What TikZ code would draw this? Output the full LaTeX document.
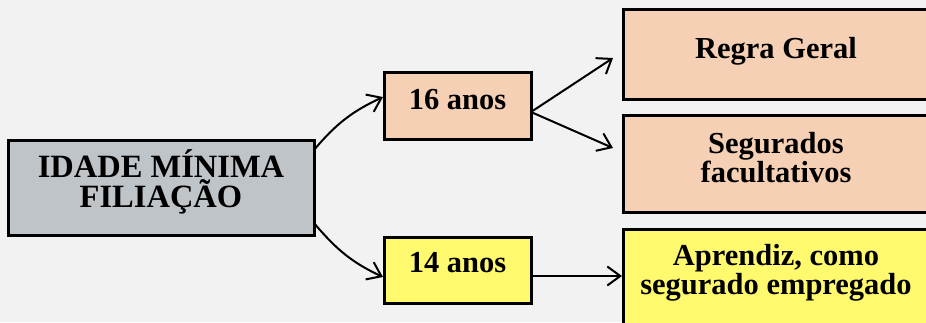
\documentclass[tikz,border=0pt]{standalone}
\usepackage{fontspec}
\setmainfont{Liberation Serif}
\usetikzlibrary{arrows.meta}
\definecolor{bgc}{HTML}{F2F2F2}
\definecolor{grayc}{HTML}{BFC4C8}
\definecolor{peach}{HTML}{F5D0B4}
\definecolor{yell}{HTML}{FFF96E}
\tikzset{
  boxst/.style={draw=black, line width=3pt, inner sep=0pt, outer sep=0pt},
  txt/.style={inner sep=0pt, align=center, font=\bfseries\fontsize{30.5}{29}\selectfont},
  bigtxt/.style={inner sep=0pt, align=center, font=\bfseries\fontsize{32.5}{30}\selectfont},
  conn/.style={line width=2pt, -{Straight Barb[length=13pt,width=19pt]}}
}
\begin{document}
\begin{tikzpicture}[x=1pt,y=1pt]
\useasboundingbox (0,0) rectangle (926,322);
\clip (0,0) rectangle (926,322);
\fill[bgc] (0,0) rectangle (926,322);
% boxes
\node[boxst, fill=grayc, minimum width=306pt, minimum height=95pt] (main) at (161,134.5) {};
\node[boxst, fill=peach, minimum width=147pt, minimum height=66pt] (n16) at (457.5,216) {};
\node[boxst, fill=yell, minimum width=147pt, minimum height=66pt] (n14) at (457.5,52) {};
\node[boxst, fill=peach, minimum width=306pt, minimum height=89pt] (rg) at (776,267.5) {};
\node[boxst, fill=peach, minimum width=306pt, minimum height=97pt] (seg) at (776,158.5) {};
\node[boxst, fill=yell, minimum width=306pt, minimum height=111pt] (apr) at (776,37.5) {};
% texts
\node[bigtxt] (tmain) at ([yshift=6]main.center) {IDADE MÍNIMA\\FILIAÇÃO};
\node[txt] (t16) at ([yshift=6]n16.center) {16 anos};
\node[txt] (t14) at ([yshift=7]n14.center) {14 anos};
\node[txt] (trg) at ([yshift=3]rg.center) {Regra Geral};
\node[txt] (tseg) at ([yshift=6]seg.center) {Segurados\\facultativos};
\node[txt] (tapr) at ([yshift=11.7]apr.center) {Aprendiz, como\\segurado empregado};
% connectors
\draw[conn] ([yshift=37.5]main.east) to[out=50,in=205] ([xshift=-1,yshift=9]n16.west);
\draw[conn] ([yshift=-35.5]main.east) to[out=-50,in=155] ([xshift=-1,yshift=-7]n14.west);
\draw[conn] ([yshift=-6]n16.east) -- ([xshift=-10,yshift=-3.5]rg.west);
\draw[conn] ([yshift=-6]n16.east) -- ([xshift=-10,yshift=15.5]seg.west);
\draw[conn] ([yshift=-6]n14.east) -- ([xshift=-1,yshift=-6]n14.east -| apr.west);
\end{tikzpicture}
\end{document}
